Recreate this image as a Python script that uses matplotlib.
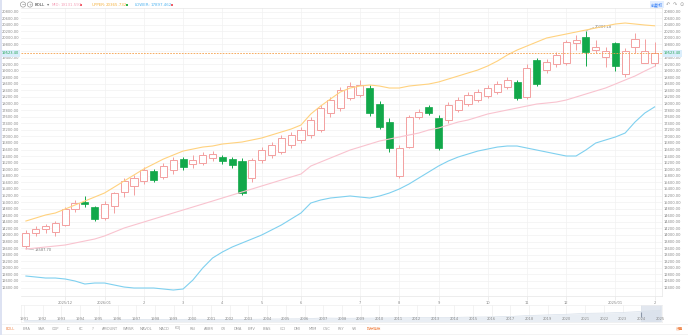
import matplotlib.pyplot as plt
from matplotlib.patches import Rectangle, Circle
import numpy as np

plt.rcParams['font.family'] = ['DejaVu Sans', 'Noto Sans CJK SC']

# weekly candles
opens = [13665, 14060, 14181, 14090, 14303, 14790, 15003, 14851, 14516, 14881,
         15307, 15490, 15643, 15947, 15764, 15977, 16311, 16159, 16190, 16342,
         16372, 16311, 16251, 15734, 16281, 16433, 16524, 16738, 16890, 17042,
         17194, 17711, 17864, 18168, 18259, 18472, 17985, 17437, 15794, 16676,
         17589, 17894, 17559, 17498, 17803, 17985, 18107, 18229, 18350, 18502,
         18655, 18198, 19324, 19020, 19203, 19233, 19842, 20024, 19628, 19415,
         19842, 18899, 19720, 19233, 19233]
closes = [14060, 14181, 14272, 14364, 14790, 14973, 14942, 14486, 14942, 15277,
          15643, 15734, 15977, 15673, 16098, 16281, 16068, 16281, 16433, 16463,
          16251, 16129, 15277, 16281, 16585, 16738, 16951, 17042, 17194, 17498,
          17864, 18107, 18411, 18532, 18563, 17711, 17285, 16646, 16646, 17589,
          17742, 17711, 16646, 17955, 18107, 18259, 18350, 18472, 18593, 18716,
          18168, 19081, 18593, 19263, 19476, 19872, 19933, 19567, 19720, 19598,
          19142, 19598, 19963, 19598, 19523.40]
highs = [14150, 14272, 14333, 14424, 14851, 15064, 15186, 14881, 15033, 15307,
         15734, 15825, 16068, 16008, 16190, 16372, 16372, 16433, 16524, 16554,
         16433, 16372, 16342, 16342, 16676, 16829, 17042, 17133, 17285, 17590,
         17955, 18198, 18502, 18655, 18716, 18563, 18076, 17559, 16738, 17650,
         17833, 17955, 17650, 18046, 18198, 18350, 18441, 18563, 18685, 18807,
         18716, 19203, 19385, 19354, 19567, 19933, 20085, 20207.18, 19933, 19720,
         19872, 19689, 20146, 19963, 19872]
lows = [13587.70, 13969, 14060, 13969, 14272, 14699, 14851, 14425, 14455, 14669,
        15155, 15216, 15551, 15612, 15703, 15855, 15977, 16037, 16129, 16251,
        16159, 16037, 15216, 15612, 16190, 16342, 16463, 16646, 16798, 16951,
        17133, 17589, 17772, 18107, 18198, 17620, 17224, 16524, 15734, 16646,
        17528, 17650, 16585, 17407, 17742, 17924, 18046, 18168, 18290, 18441,
        18107, 18137, 18532, 18929, 19111, 19172, 19628, 19142, 19537, 19111,
        18990, 18807, 19537, 19233, 19142]

# BOLL bands
upper = [14425, 14516, 14608, 14669, 14790, 14912, 15033, 15155, 15277, 15459,
         15643, 15825, 16008, 16159, 16311, 16433, 16554, 16615, 16676, 16707,
         16768, 16798, 16829, 16890, 16951, 17042, 17133, 17224, 17346,
         17681, 17924, 18137, 18350, 18472, 18532, 18563, 18532, 18472, 18472,
         18532, 18563, 18593, 18655, 18746, 18837, 18929, 19020, 19142, 19294,
         19476, 19628, 19750, 19872, 19994, 20055, 20115, 20176, 20237, 20298,
         20359, 20420, 20450, 20420, 20389, 20365.732]
mid = [13573, 13603, 13634, 13664, 13695, 13756, 13817, 13877, 13969, 14090,
       14212, 14303, 14394, 14486, 14577, 14669, 14760, 14851, 14942, 15033,
       15125, 15216, 15307, 15398, 15490, 15581, 15673, 15764, 15855,
       16098, 16220, 16342, 16463, 16585, 16676, 16768, 16859, 16920, 16981,
       17042, 17103, 17194, 17255, 17346, 17437, 17498, 17589, 17681, 17742,
       17803, 17864, 17924, 17985, 18015, 18046, 18107, 18198, 18290, 18381,
       18472, 18593, 18716, 18837, 18990, 19131.597]
lower = [12751, 12721, 12690, 12690, 12660, 12599, 12508, 12538, 12538, 12477,
         12416, 12386, 12386, 12386, 12356, 12325, 12356, 12630, 12995, 13299,
         13482, 13634, 13756, 13877, 13999, 14151, 14303, 14486, 14669,
         14973, 15064, 15125, 15155, 15186, 15155, 15125, 15186, 15277, 15398,
         15551, 15734, 15916, 16098, 16251, 16372, 16463, 16554, 16615, 16676,
         16707, 16707, 16646, 16585, 16524, 16463, 16403, 16403, 16585, 16798,
         16890, 16981, 17103, 17437, 17711, 17897.462]

tick_idx = [4, 8, 12, 16, 20, 24, 28, 34, 38, 42, 47, 51, 55, 60, 64]
tick_labels = ['2025/12', '2026/01', '2', '3', '4', '5', '6', '7', '8', '9',
               '10', '11', '12', '2025/01', '2']

# navigator (overview)
nav_years = list(range(1991, 2026))
nav_values = [1.0, 1.1, 1.2, 1.3, 1.3, 1.4, 1.6, 1.5, 1.6, 1.8, 1.7, 1.6,
              1.7, 1.9, 2.0, 2.1, 2.6, 2.4, 2.5, 2.6, 2.7, 2.8, 2.9, 3.0,
              3.2, 3.3, 3.6, 4.2, 4.6, 5.0, 5.6, 5.8, 6.2, 6.8, 7.6]

indicators = ['BOLL', 'EMA', 'SAR', 'CDP', 'IC', 'KC', '?', 'AMOUNT', 'WMSR',
              'MAVOL', 'MACD', 'KDJ', 'RSI', 'ARBR', 'CR', 'DMA', 'EMV', 'BIAS',
              'CCI', 'DMI', 'MTM', 'OSC', 'PSY', 'VR']

RED = '#f3a0a0'
GREEN = '#12a84a'
W, H = 688, 335
FS = 2.6


def box(l, t, r, b):
    return [l / W, 1 - b / H, (r - l) / W, (b - t) / H]


fig = plt.figure(figsize=(W / 100, H / 100), dpi=100)

# 主图
ax = fig.add_axes(box(21, 8, 662, 296))
x = np.arange(len(opens))
for i in x:
    o, c, h, l = opens[i], closes[i], highs[i], lows[i]
    if c >= o:
        ax.vlines(i, l, h, color=RED, lw=0.7, zorder=2)
        ax.add_patch(Rectangle((i - 0.36, o), 0.72, c - o, fc='white', ec=RED, lw=0.7, zorder=3))
    else:
        ax.vlines(i, l, h, color=GREEN, lw=0.7, zorder=2)
        ax.add_patch(Rectangle((i - 0.36, c), 0.72, o - c, fc=GREEN, ec=GREEN, lw=0.5, zorder=3))

ax.plot(x, upper, color='#ffd27f', lw=0.8, zorder=4)
ax.plot(x, mid, color='#f9c3cf', lw=0.8, zorder=4)
ax.plot(x, lower, color='#7fd0ef', lw=0.8, zorder=4)

last = closes[-1]
ax.axhline(last, color='#f5a04a', ls=(0, (2, 1.5)), lw=0.6, zorder=5)


def fmt(v, p):
    # 当前价标签盖住的刻度不显示
    if abs(v - last) < 120:
        return ''
    return f'{v:.2f}'


ax.set_xlim(-0.5, 64.75)
ax.set_ylim(12143, 20907)
ax.set_yticks(np.arange(12400, 20801, 200))
ax.yaxis.set_major_formatter(plt.FuncFormatter(fmt))
ax.set_xticks(tick_idx, tick_labels)
ax.tick_params(axis='y', labelsize=FS, colors='#888888', length=0, pad=1.5,
               labelleft=True, labelright=True)
ax.tick_params(axis='x', labelsize=FS, colors='#e6e6e6', labelcolor='#888888',
               length=3, width=0.5, pad=0.8)
ax.grid(color='#f1f1f1', lw=0.5)
for s in ax.spines.values():
    s.set_color('#e6e6e6')
    s.set_linewidth(0.5)
ax.spines['left'].set_visible(False)

# 最低/最高标注
k_lo = int(np.argmin(lows))
ax.plot([k_lo, k_lo + 0.8], [lows[k_lo], lows[k_lo] - 40], color='#aaaaaa', lw=0.4)
ax.text(k_lo + 0.9, lows[k_lo] - 40, f'{lows[k_lo]:.2f}', fontsize=FS, color='#777777',
        ha='left', va='center')
k_hi = int(np.argmax(highs))
ax.plot([k_hi, k_hi + 0.8], [highs[k_hi], highs[k_hi] + 110], color='#aaaaaa', lw=0.4)
ax.text(k_hi + 0.9, highs[k_hi] + 110, f'{highs[k_hi]:.2f}', fontsize=FS, color='#777777',
        ha='left', va='center')

# 当前价
tr = ax.get_yaxis_transform()
for xx, ha in [(-0.003, 'right'), (1.003, 'left')]:
    ax.text(xx, last, f'{last:.2f}', transform=tr, ha=ha, va='center', fontsize=FS,
            color='#21a453', bbox=dict(fc='#dbeefc', ec='none', pad=0.8), zorder=6)

# 缩略图
nav = fig.add_axes(box(21, 305, 662, 322))
nav.fill_between(nav_years, nav_values, 0, color='#e9eef4', lw=0)
nav.plot(nav_years, nav_values, color='#d8e0ea', lw=0.5)
nav.set_xlim(1990.84, 2025.11)
nav.set_ylim(0, 11)
nav.axvspan(2024, 2025.11, color='#d6dee9', alpha=0.7, lw=0)
nav.vlines(2024, 3.5, 6.5, color='#8a96a8', lw=0.8)
for yr in nav_years:
    nav.axvline(yr, color='#efefef', lw=0.5, zorder=0)
    nav.text(yr, 0.8, str(yr), fontsize=FS, color='#888888', ha='center', va='bottom')
nav.set_xticks([])
nav.set_yticks([])
for s in nav.spines.values():
    s.set_color('#eeeeee')
    s.set_linewidth(0.5)

# 装饰层
ov = fig.add_axes([0, 0, 1, 1])
ov.set_xlim(0, W)
ov.set_ylim(H, 0)
ov.axis('off')
ov.patch.set_alpha(0)
ov.add_patch(Rectangle((0, 0), 2, H, color='#dde2f2', lw=0))

ov.add_patch(Circle((23, 4.5), 2.6, fc='none', ec='#9a9a9a', lw=0.5))
ov.add_patch(Circle((30, 4.5), 2.6, fc='none', ec='#9a9a9a', lw=0.5))
ov.text(23, 4.6, '−', fontsize=2.8, color='#888888', ha='center', va='center')
ov.text(30, 4.6, '+', fontsize=2.8, color='#888888', ha='center', va='center')
ov.text(35, 4.5, 'BOLL', fontsize=2.9, color='#333333', ha='left', va='center')
ov.text(48, 4.5, '▾', fontsize=3.2, color='#777777', ha='center', va='center')
legend = [(52, 61, 80, 'MID:', mid[-1], '#f5a3b9', '#f0606a'),
          (92, 106, 126, 'UPPER:', upper[-1], '#f5b342', '#2db34a'),
          (135, 151, 171, 'LOWER:', lower[-1], '#55b6f0', '#f0606a')]
for nx, vx, dx, name, val, col, dot in legend:
    ov.text(nx, 4.5, name, fontsize=2.9, color=col, ha='left', va='center')
    ov.text(vx, 4.5, f'{val:.3f}', fontsize=2.9, color=col, ha='left', va='center')
    ov.add_patch(Rectangle((dx, 3.5), 2, 2, color=dot, lw=0))

ov.text(657, 4.5, '前复权', fontsize=3.0, color='#3b82f6', ha='center', va='center',
        bbox=dict(fc='#e4efff', ec='none', pad=0.6))
for ix, ic in [(668, '↶'), (675, '↷'), (682, '⊙')]:
    ov.text(ix, 4.5, ic, fontsize=3.6, color='#999999', ha='center', va='center')

# 指标栏
ov.plot([2, W], [323.5, 323.5], color='#eeeeee', lw=0.5)
ov.plot([2, W], [333.5, 333.5], color='#eeeeee', lw=0.5)
tx = 6
for name in indicators:
    col = '#f0864a' if name == 'BOLL' else '#999999'
    ov.text(tx, 328.5, name, fontsize=FS, color=col, ha='left', va='center')
    tx += len(name) * 2.1 + 8.3
ov.text(tx + 2, 328.5, '指标模板', fontsize=FS, color='#f0864a', ha='left', va='center')
ov.text(680, 328.5, '设置', fontsize=FS, color='#f0864a', ha='center', va='center')

fig.savefig('out.png', dpi=100)
